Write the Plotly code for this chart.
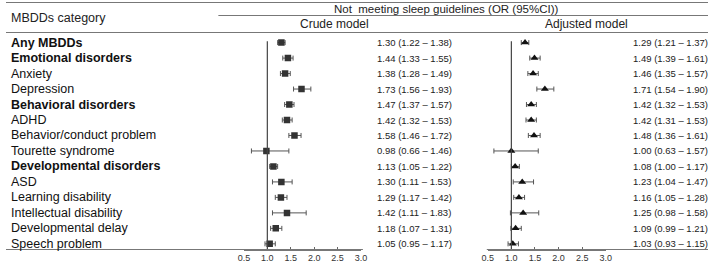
import plotly.graph_objects as go

categories = ["Any MBDDs", "Emotional disorders", "Anxiety", "Depression",
              "Behavioral disorders", "ADHD", "Behavior/conduct problem", "Tourette syndrome",
              "Developmental disorders", "ASD", "Learning disability", "Intellectual disability",
              "Developmental delay", "Speech problem"]
is_group = [True, True, False, False, True, False, False, False, True, False, False, False, False, False]

crude_or = [1.30, 1.44, 1.38, 1.73, 1.47, 1.42, 1.58, 0.98, 1.13, 1.30, 1.29, 1.42, 1.18, 1.05]
crude_lo = [1.22, 1.33, 1.28, 1.56, 1.37, 1.32, 1.46, 0.66, 1.05, 1.11, 1.17, 1.11, 1.07, 0.95]
crude_hi = [1.38, 1.55, 1.49, 1.93, 1.57, 1.53, 1.72, 1.46, 1.22, 1.53, 1.42, 1.83, 1.31, 1.17]

adj_or = [1.29, 1.49, 1.46, 1.71, 1.42, 1.42, 1.48, 1.00, 1.08, 1.23, 1.16, 1.25, 1.09, 1.03]
adj_lo = [1.21, 1.39, 1.35, 1.54, 1.32, 1.31, 1.36, 0.63, 1.00, 1.04, 1.05, 0.98, 0.99, 0.93]
adj_hi = [1.37, 1.61, 1.57, 1.90, 1.53, 1.53, 1.61, 1.57, 1.17, 1.47, 1.28, 1.58, 1.21, 1.15]

tick_vals = [0.5, 1.0, 1.5, 2.0, 2.5, 3.0]
tick_text = ["0.5", "1.0", "1.5", "2.0", "2.5", "3.0"]

W, H = 714, 266
FONT = "Liberation Sans, Arial, sans-serif"
rows = list(range(len(categories)))

def px(x):
    return x / W

def py(y):
    return 1 - y / H

fig = go.Figure()

err_col = "#555555"
fig.add_trace(go.Scatter(
    x=crude_or, y=rows, mode="markers", xaxis="x", yaxis="y",
    marker=dict(symbol="square", size=6.5, color="#333333"),
    error_x=dict(type="data", symmetric=False,
                 array=[h - o for h, o in zip(crude_hi, crude_or)],
                 arrayminus=[o - l for o, l in zip(crude_or, crude_lo)],
                 color=err_col, thickness=1, width=2.5),
    showlegend=False, hoverinfo="skip"))

fig.add_trace(go.Scatter(
    x=adj_or, y=rows, mode="markers", xaxis="x2", yaxis="y",
    marker=dict(symbol="triangle-up", size=7, color="#111111"),
    error_x=dict(type="data", symmetric=False,
                 array=[h - o for h, o in zip(adj_hi, adj_or)],
                 arrayminus=[o - l for o, l in zip(adj_or, adj_lo)],
                 color=err_col, thickness=1, width=2.5),
    showlegend=False, hoverinfo="skip"))

axis_bottom_px = 249.5
row0_px = 42.6
row_step = 15.48
y_top = -row0_px / row_step
y_bot = (axis_bottom_px - row0_px) / row_step

xcommon = dict(range=[0.5, 3.0], tickmode="array", tickvals=tick_vals, ticktext=tick_text,
               ticks="inside", ticklen=3, tickwidth=1, tickcolor="#666666",
               showline=True, linecolor="#777777", linewidth=1, showgrid=False, zeroline=False,
               tickfont=dict(family=FONT, size=9, color="#333333"), anchor="y", fixedrange=True)

fig.update_layout(
    width=W, height=H, margin=dict(l=0, r=0, t=0, b=0),
    paper_bgcolor="white", plot_bgcolor="white",
    xaxis=dict(domain=[px(242), px(361)], **xcommon),
    xaxis2=dict(domain=[px(490), px(610)], **xcommon),
    yaxis=dict(domain=[(H - axis_bottom_px) / H, 1], range=[y_bot, y_top], visible=False,
               showgrid=False, zeroline=False, fixedrange=True),
)

# reference lines at OR = 1
for xr in ["x", "x2"]:
    fig.add_shape(type="line", xref=xr, yref="y", x0=1.0, x1=1.0, y0=-0.08, y1=y_bot,
                  line=dict(color="#444444", width=1.2))

line_col = "#777777"
# table rules
fig.add_shape(type="line", xref="paper", yref="paper", x0=0, x1=1, y0=py(2.5), y1=py(2.5),
              line=dict(color=line_col, width=1))
fig.add_shape(type="line", xref="paper", yref="paper", x0=px(216), x1=1, y0=py(15.5), y1=py(15.5),
              line=dict(color=line_col, width=1))
fig.add_shape(type="line", xref="paper", yref="paper", x0=0, x1=1, y0=py(32.5), y1=py(32.5),
              line=dict(color=line_col, width=1))
fig.add_shape(type="line", xref="paper", yref="paper", x0=0, x1=px(363), y0=py(axis_bottom_px), y1=py(axis_bottom_px),
              line=dict(color=line_col, width=1))
fig.add_shape(type="line", xref="paper", yref="paper", x0=px(489), x1=1, y0=py(axis_bottom_px), y1=py(axis_bottom_px),
              line=dict(color=line_col, width=1))

txt_col = "#222222"
# headers
fig.add_annotation(text="MBDDs category", xref="paper", yref="paper", x=px(3), y=py(18.3),
                   xanchor="left", yanchor="middle", showarrow=False,
                   font=dict(family=FONT, size=12.5, color=txt_col))
fig.add_annotation(text="Not  meeting sleep guidelines (OR (95%CI))", xref="paper", yref="paper",
                   x=px(448.5), y=py(9.3), xanchor="center", yanchor="middle", showarrow=False,
                   font=dict(family=FONT, size=11.5, color=txt_col))
fig.add_annotation(text="Crude model", xref="paper", yref="paper", x=px(334), y=py(23.5),
                   xanchor="center", yanchor="middle", showarrow=False,
                   font=dict(family=FONT, size=12, color=txt_col))
fig.add_annotation(text="Adjusted model", xref="paper", yref="paper", x=px(590), y=py(23.5),
                   xanchor="center", yanchor="middle", showarrow=False,
                   font=dict(family=FONT, size=12, color=txt_col))

for i, (cat, g) in enumerate(zip(categories, is_group)):
    fig.add_annotation(text=f"<b>{cat}</b>" if g else cat, xref="paper", yref="y", x=px(3), y=i,
                       xanchor="left", yanchor="middle", showarrow=False,
                       font=dict(family=FONT, size=12.5, color="#111111"))
    fig.add_annotation(text=f"{crude_or[i]:.2f} ({crude_lo[i]:.2f} – {crude_hi[i]:.2f})",
                       xref="paper", yref="y", x=px(375), y=i, xanchor="left", yanchor="middle",
                       showarrow=False, font=dict(family=FONT, size=9.5, color=txt_col))
    fig.add_annotation(text=f"{adj_or[i]:.2f} ({adj_lo[i]:.2f} – {adj_hi[i]:.2f})",
                       xref="paper", yref="y", x=px(636), y=i, xanchor="left", yanchor="middle",
                       showarrow=False, font=dict(family=FONT, size=9.5, color=txt_col))

fig.write_html("out.html", config={"displayModeBar": False, "staticPlot": True},
               post_script="document.body.style.margin='0';document.body.style.padding='0';document.body.style.overflow='hidden';")
